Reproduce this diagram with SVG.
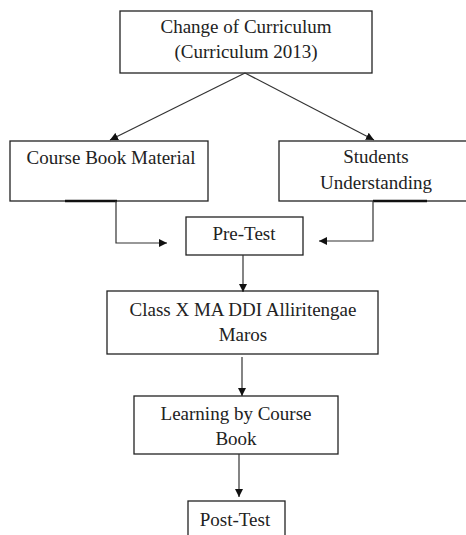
<svg xmlns="http://www.w3.org/2000/svg" width="466" height="535" viewBox="0 0 466 535">
<defs>
<style>
.box{fill:#fff;stroke:#222;stroke-width:1.3}
.t{font-family:"Liberation Serif","Times New Roman",serif;font-size:19px;fill:#222;text-anchor:middle}
.c{fill:none;stroke:#333;stroke-width:1.2}
.u{stroke:#111;stroke-width:2.4}
</style>
<marker id="ah" viewBox="0 0 10 10" refX="10" refY="5" markerWidth="8" markerHeight="8" markerUnits="userSpaceOnUse" orient="auto">
<path d="M0,0 L10,5 L0,10 z" fill="#111"/>
</marker>
</defs>
<rect width="466" height="535" fill="#fff"/>
<g id="curriculum">
<rect class="box" x="120" y="11" width="252" height="62"/>
<text class="t" x="246" y="33">Change of Curriculum</text>
<text class="t" x="246" y="58">(Curriculum 2013)</text>
</g>
<g id="coursebook">
<rect class="box" x="10" y="141" width="198" height="60"/>
<text class="t" x="111" y="164">Course Book Material</text>
</g>
<g id="students">
<rect class="box" x="279" y="141" width="195" height="60"/>
<text class="t" x="376" y="163">Students</text>
<text class="t" x="376" y="189">Understanding</text>
</g>
<g id="pretest">
<rect class="box" x="186" y="217" width="117" height="38"/>
<text class="t" x="244" y="240">Pre-Test</text>
</g>
<g id="classx">
<rect class="box" x="107" y="291" width="271" height="63"/>
<text class="t" x="243" y="316">Class X MA DDI Alliritengae</text>
<text class="t" x="243" y="341">Maros</text>
</g>
<g id="learning">
<rect class="box" x="134" y="396" width="204" height="58"/>
<text class="t" x="236" y="420">Learning by Course</text>
<text class="t" x="236" y="445">Book</text>
</g>
<g id="posttest">
<rect class="box" x="188" y="501" width="97" height="40"/>
<text class="t" x="235" y="526">Post-Test</text>
</g>
<g id="connectors">
<line class="c" x1="245" y1="73" x2="110" y2="140" marker-end="url(#ah)"/>
<line class="c" x1="245" y1="73" x2="374" y2="140" marker-end="url(#ah)"/>
<line class="u" x1="65" y1="201" x2="117" y2="201"/>
<line class="u" x1="373" y1="201" x2="427" y2="201"/>
<polyline class="c" points="116,201 116,243 167,243" marker-end="url(#ah)"/>
<polyline class="c" points="373,201 373,241 319,241" marker-end="url(#ah)"/>
<line class="c" x1="243" y1="255" x2="243" y2="292" marker-end="url(#ah)"/>
<line class="c" x1="242" y1="357" x2="242" y2="396" marker-end="url(#ah)"/>
<line class="c" x1="239" y1="454" x2="239" y2="497" marker-end="url(#ah)"/>
</g>
</svg>
